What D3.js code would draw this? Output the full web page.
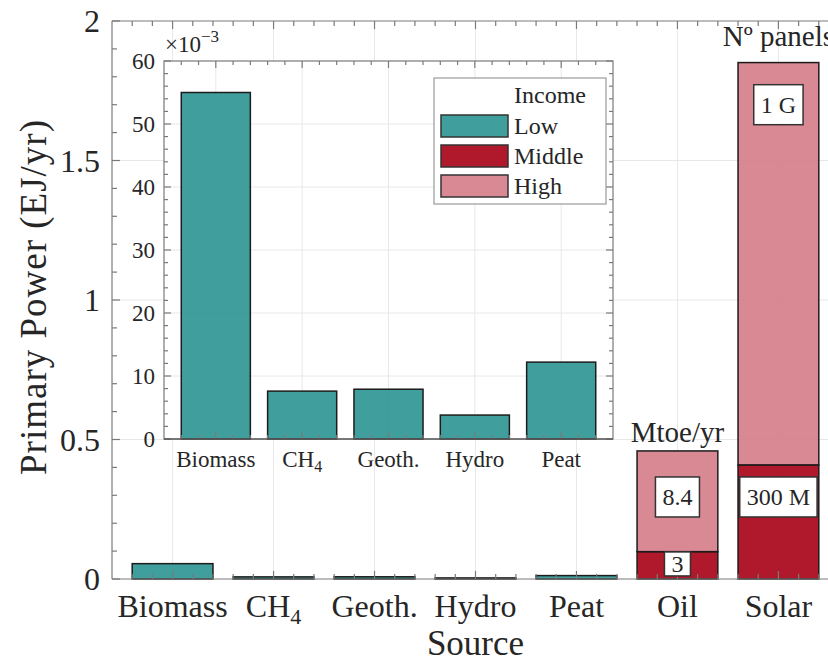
<!DOCTYPE html>
<html>
<head>
<meta charset="utf-8">
<script src="https://cdn.jsdelivr.net/npm/d3@7"></script>
<style>
  html, body { margin: 0; padding: 0; background: #fff; overflow: hidden; }
  svg { display: block; }
</style>
</head>
<body>
<svg id="chart" width="828" height="662"></svg>
<script>
// ---------------- data ----------------
const categories = ["Biomass", "CH4", "Geoth.", "Hydro", "Peat", "Oil", "Solar"];
const seriesNames = ["Low", "Middle", "High"];
const lowValues    = [0.055, 0.0076, 0.0079, 0.0038, 0.0122, 0, 0];   // EJ/yr
const middleValues = [0, 0, 0, 0, 0, 0.098, 0.409];
const highValues   = [0, 0, 0, 0, 0, 0.361, 1.442];
const insetCategories = ["Biomass", "CH4", "Geoth.", "Hydro", "Peat"];
const insetValues = [55.0, 7.6, 7.9, 3.8, 12.2];                         // x 10^-3 EJ/yr
const mainYTicks = [0, 0.5, 1, 1.5, 2];
const insetYTicks = [0, 10, 20, 30, 40, 50, 60];
const boxLabelCats  = ["Oil", "Oil", "Solar", "Solar"];
const boxLabelY     = [0.054, 0.294, 0.294, 1.70];
const boxLabelTexts = ["3", "8.4", "300 M", "1 G"];
const headerCats  = ["Oil", "Solar"];
const headerY     = [0.491, 1.910];
const headerTexts = ["Mtoe/yr", "N\u00BA panels"];

// ---------------- styles ----------------
const colors = { Low: "#2b9591", Middle: "#a70014", High: "#d57c88" };
const axisColor = "#7a7a7a";
const gridColor = "#e8e8e8";
const edgeColor = "#1c1c1c";
const FONT = '"Liberation Serif"';

const svg = d3.select("#chart");

function catLabel(sel, name, subSize) {
  if (name === "CH4") {
    sel.text(null);
    sel.append("tspan").text("CH");
    sel.append("tspan").attr("dy", subSize * 0.3).attr("font-size", subSize).text("4");
  } else sel.text(name);
}

// ---------------- main axes ----------------
const M = { left: 112, right: 839, top: 21, bottom: 579 };
const x = d3.scaleLinear().domain([0.4, categories.length + 0.6]).range([M.left, M.right]);
const y = d3.scaleLinear().domain([0, 2]).range([M.bottom, M.top]);
const band = x(1) - x(0);
const barW = band * 0.8;
const idx = c => categories.indexOf(c) + 1;

const gMain = svg.append("g");
gMain.selectAll(".vg").data(categories).join("line")
  .attr("x1", (d, i) => x(i + 1)).attr("x2", (d, i) => x(i + 1))
  .attr("y1", M.top).attr("y2", M.bottom)
  .attr("stroke", gridColor).attr("stroke-width", 1);
gMain.selectAll(".hg").data(mainYTicks.filter(t => t > 0 && t < 2)).join("line")
  .attr("x1", M.left).attr("x2", M.right)
  .attr("y1", d => y(d)).attr("y2", d => y(d))
  .attr("stroke", gridColor).attr("stroke-width", 1);

const stackData = categories.map((c, i) => ({ cat: c, Low: lowValues[i], Middle: middleValues[i], High: highValues[i] }));
const stacked = d3.stack().keys(seriesNames)(stackData);
stacked.forEach(layer => {
  gMain.append("g").selectAll("rect").data(layer.filter(d => d[1] - d[0] > 0)).join("rect")
    .attr("x", d => x(idx(d.data.cat)) - barW / 2)
    .attr("width", barW)
    .attr("y", d => y(d[1]))
    .attr("height", d => y(d[0]) - y(d[1]))
    .attr("fill", colors[layer.key]).attr("fill-opacity", 0.9)
    .attr("stroke", edgeColor).attr("stroke-width", 1.5);
});

const axMain = svg.append("g").attr("stroke", axisColor).attr("stroke-width", 1.2);
axMain.append("line").attr("x1", M.left).attr("x2", M.right).attr("y1", M.bottom).attr("y2", M.bottom);
axMain.append("line").attr("x1", M.left).attr("x2", M.right).attr("y1", M.top).attr("y2", M.top);
axMain.append("line").attr("x1", M.left).attr("x2", M.left).attr("y1", M.top).attr("y2", M.bottom);
d3.range(0, 2.0001, 0.1).forEach(v => {
  const major = mainYTicks.some(t => Math.abs(t - v) < 1e-6);
  const len = major ? 8 : 5;
  axMain.append("line").attr("x1", M.left).attr("x2", M.left + len).attr("y1", y(v)).attr("y2", y(v));
});
d3.range(0.6, categories.length + 0.41, 0.2).forEach(v => {
  const major = Math.abs(v - Math.round(v)) < 1e-6;
  const len = major ? 8 : 5;
  axMain.append("line").attr("x1", x(v)).attr("x2", x(v)).attr("y1", M.bottom).attr("y2", M.bottom - len);
  axMain.append("line").attr("x1", x(v)).attr("x2", x(v)).attr("y1", M.top).attr("y2", M.top + len);
});
svg.append("g").selectAll("text").data(mainYTicks).join("text")
  .attr("x", M.left - 12).attr("y", d => y(d)).attr("dy", "0.35em")
  .attr("text-anchor", "end").attr("font-size", 32)
  .text(d => d3.format("")(d));
svg.append("g").selectAll("text").data(categories).join("text")
  .attr("x", (d, i) => x(i + 1)).attr("y", 617)
  .attr("text-anchor", "middle").attr("font-size", 32)
  .each(function (d) { catLabel(d3.select(this), d, 22); });
svg.append("text").attr("x", (M.left + M.right) / 2).attr("y", 655)
  .attr("text-anchor", "middle").attr("font-size", 35).text("Source");
svg.append("text").attr("transform", `translate(46,${(M.top + M.bottom) / 2 - 3}) rotate(-90)`)
  .attr("text-anchor", "middle").attr("font-size", 37).attr("letter-spacing", 1)
  .text("Primary Power (EJ/yr)");

svg.append("g").selectAll("text").data(headerTexts).join("text")
  .attr("x", (d, i) => x(idx(headerCats[i]))).attr("y", (d, i) => y(headerY[i]))
  .attr("text-anchor", "middle").attr("font-size", 29)
  .text(d => d);

const boxG = svg.append("g");
boxLabelTexts.forEach((t, i) => {
  const cx = x(idx(boxLabelCats[i])), cy = y(boxLabelY[i]);
  const g = boxG.append("g");
  const rect = g.append("rect");
  const txt = g.append("text").attr("x", cx).attr("y", cy).attr("dy", "0.35em")
    .attr("text-anchor", "middle").attr("font-size", 24)
    .style("font-family", FONT).text(t);
  const bb = txt.node().getBBox();
  const compact = boxLabelY[i] < 0.1;
  const padX = 7, h = compact ? 24 : 40;
  rect.attr("x", bb.x - padX).attr("width", bb.width + 2 * padX)
    .attr("y", cy - h / 2).attr("height", h)
    .attr("fill", "#fff").attr("stroke", "#333").attr("stroke-width", 1.5);
});

// ---------------- inset axes ----------------
const I = { left: 164, right: 613, top: 61, bottom: 439 };
const xi = d3.scaleLinear().domain([0.4, insetCategories.length + 0.6]).range([I.left, I.right]);
const yi = d3.scaleLinear().domain([0, 60]).range([I.bottom, I.top]);
const bandI = xi(1) - xi(0);
const barWI = bandI * 0.8;
const gIn = svg.append("g");
gIn.append("rect").attr("x", I.left).attr("y", I.top).attr("width", I.right - I.left).attr("height", I.bottom - I.top).attr("fill", "#fff");
gIn.selectAll(".vgi").data(insetCategories).join("line")
  .attr("x1", (d, i) => xi(i + 1)).attr("x2", (d, i) => xi(i + 1))
  .attr("y1", I.top).attr("y2", I.bottom)
  .attr("stroke", gridColor).attr("stroke-width", 1);
gIn.selectAll(".hgi").data(insetYTicks.filter(t => t > 0 && t < 60)).join("line")
  .attr("x1", I.left).attr("x2", I.right)
  .attr("y1", d => yi(d)).attr("y2", d => yi(d))
  .attr("stroke", gridColor).attr("stroke-width", 1);
gIn.append("g").selectAll("rect").data(insetValues).join("rect")
  .attr("x", (d, i) => xi(i + 1) - barWI / 2).attr("width", barWI)
  .attr("y", d => yi(d)).attr("height", d => yi(0) - yi(d))
  .attr("fill", colors.Low).attr("fill-opacity", 0.9)
  .attr("stroke", edgeColor).attr("stroke-width", 1.5);
const axIn = svg.append("g").attr("stroke", axisColor).attr("stroke-width", 1.2);
axIn.append("rect").attr("x", I.left).attr("y", I.top).attr("width", I.right - I.left).attr("height", I.bottom - I.top).attr("fill", "none");
d3.range(0, 60.001, 2).forEach(v => {
  const major = Math.abs(v % 10) < 1e-6;
  const len = major ? 7 : 4;
  axIn.append("line").attr("x1", I.left).attr("x2", I.left + len).attr("y1", yi(v)).attr("y2", yi(v));
  axIn.append("line").attr("x1", I.right).attr("x2", I.right - len).attr("y1", yi(v)).attr("y2", yi(v));
});
d3.range(0.6, insetCategories.length + 0.41, 0.2).forEach(v => {
  const major = Math.abs(v - Math.round(v)) < 1e-6;
  const len = major ? 7 : 4;
  axIn.append("line").attr("x1", xi(v)).attr("x2", xi(v)).attr("y1", I.bottom).attr("y2", I.bottom - len);
  axIn.append("line").attr("x1", xi(v)).attr("x2", xi(v)).attr("y1", I.top).attr("y2", I.top + len);
});
axIn.append("line").attr("x1", I.left).attr("x2", I.right).attr("y1", I.bottom).attr("y2", I.bottom).attr("stroke", "#444");
svg.append("g").selectAll("text").data(insetYTicks).join("text")
  .attr("x", I.left - 9).attr("y", d => yi(d)).attr("dy", "0.35em")
  .attr("text-anchor", "end").attr("font-size", 23).text(d => d);
svg.append("g").selectAll("text").data(insetCategories).join("text")
  .attr("x", (d, i) => xi(i + 1)).attr("y", 467)
  .attr("text-anchor", "middle").attr("font-size", 23)
  .each(function (d) { catLabel(d3.select(this), d, 16); });
const expT = svg.append("text").attr("x", I.left + 1).attr("y", 52).attr("font-size", 23);
expT.append("tspan").text("\u00D710");
expT.append("tspan").attr("dy", -10).attr("font-size", 17).text("\u22123");

// legend
const L = { x: 434, y: 78, w: 172, h: 126 };
const lg = svg.append("g");
lg.append("rect").attr("x", L.x).attr("y", L.y).attr("width", L.w).attr("height", L.h)
  .attr("fill", "#fff").attr("stroke", "#9a9a9a").attr("stroke-width", 1.2);
lg.append("text").attr("x", 514).attr("y", 103).attr("font-size", 24).text("Income");
seriesNames.forEach((s, i) => {
  const cy = 126 + i * 30;
  lg.append("rect").attr("x", 441).attr("y", cy - 11).attr("width", 67).attr("height", 22)
    .attr("fill", colors[s]).attr("fill-opacity", 0.9).attr("stroke", "#333").attr("stroke-width", 1.5);
  lg.append("text").attr("x", 514).attr("y", cy).attr("dy", "0.35em").attr("font-size", 24).text(s);
});

// font & colour for every text
svg.selectAll("text").style("font-family", FONT).attr("fill", "#262626");
</script>
</body>
</html>
